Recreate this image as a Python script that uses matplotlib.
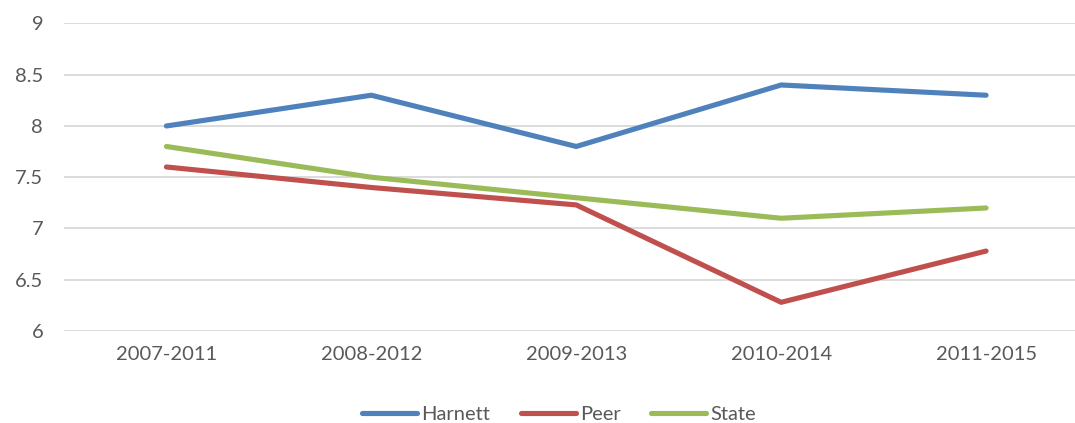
import matplotlib.pyplot as plt

periods = ['2007-2011', '2008-2012', '2009-2013', '2010-2014', '2011-2015']
harnett = [8.0, 8.3, 7.8, 8.4, 8.3]
peer = [7.6, 7.4, 7.23, 6.28, 6.78]
state = [7.8, 7.5, 7.3, 7.1, 7.2]

plt.rcParams['font.family'] = ['Lato', 'DejaVu Sans']

fig = plt.figure(figsize=(10.75, 4.23), dpi=100)
ax = fig.add_axes([0.0595, 0.2175, 0.9405, 0.727])

x = range(len(periods))
ax.plot(x, harnett, color='#4F81BD', linewidth=3.7, solid_capstyle='round', label='Harnett', zorder=3)
ax.plot(x, peer, color='#C0504D', linewidth=3.7, solid_capstyle='round', label='Peer', zorder=3)
ax.plot(x, state, color='#9BBB59', linewidth=3.7, solid_capstyle='round', label='State', zorder=3)

ax.set_xlim(-0.5, 4.434)
ax.set_ylim(6, 9)
ax.set_yticks([6, 6.5, 7, 7.5, 8, 8.5, 9])
ax.set_yticklabels(['6', '6.5', '7', '7.5', '8', '8.5', '9'])
ax.set_xticks(list(x))
ax.set_xticklabels(periods)

ax.grid(axis='y', color='#D9D9D9', linewidth=1.3)
ax.set_axisbelow(True)
for s in ax.spines.values():
    s.set_visible(False)
ax.tick_params(axis='both', length=0, labelsize=14.5, colors='#595959')
ax.tick_params(axis='y', pad=15)
ax.tick_params(axis='x', pad=11)

leg = fig.legend(loc='lower center', bbox_to_anchor=(0.52, -0.042), ncol=3, frameon=False,
                 fontsize=14.5, handlelength=2.75, columnspacing=1.5, handletextpad=0.2)
for t in leg.get_texts():
    t.set_color('#595959')

fig.savefig('out.png', dpi=100)
